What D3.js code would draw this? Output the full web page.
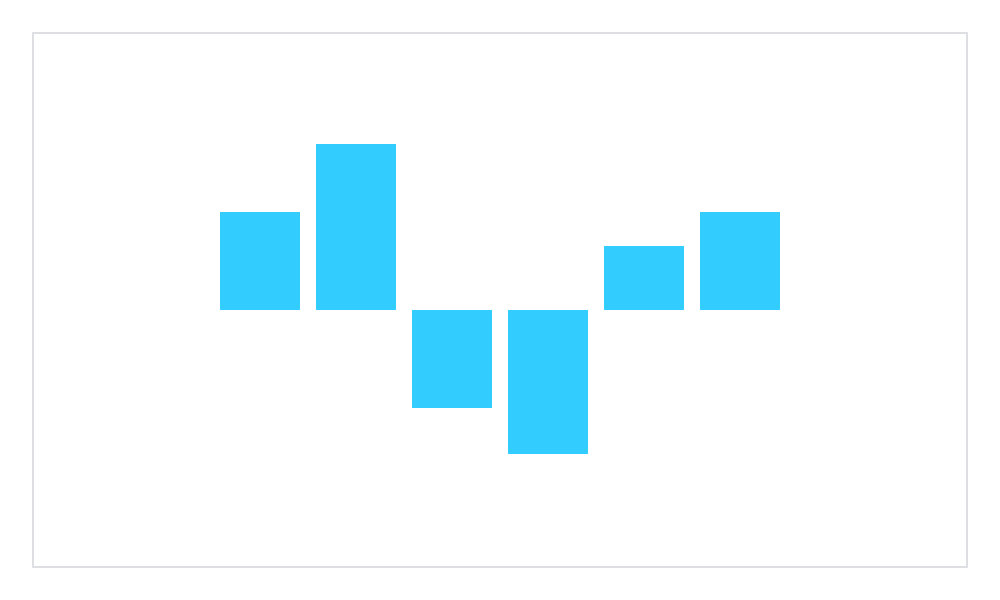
<!DOCTYPE html>
<html>
<head>
<meta charset="utf-8">
<script src="https://cdn.jsdelivr.net/npm/d3@7"></script>
<style>
  body { margin: 0; background: #fff; }
</style>
</head>
<body>
<div id="container"></div>
<script>
let w = 1000;
let h = 600;

// chart data
let categories = ["A", "B", "C", "D", "E", "F"];
let values = [49, 83, -49, -72, 32, 49];

let viz = d3.select("#container")
  .append("svg")
    .attr("width", w)
    .attr("height", h)
    .style("background-color", "white")
;

// light frame round the plot
viz.append("rect")
  .attr("x", 33)
  .attr("y", 33)
  .attr("width", 934)
  .attr("height", 534)
  .attr("fill", "none")
  .attr("stroke", "#dedfe3")
  .attr("stroke-width", 2)
;

let xScale = d3.scaleBand()
  .domain(categories)
  .range([212, 788])
  .paddingInner(1 / 6)
  .paddingOuter(1 / 12)
;

// one unit = 2px, zero sits at y=310
let yScale = d3.scaleLinear().domain([-128, 150]).range([566, 10]);

viz.append("g").attr("class", "bars")
  .selectAll("rect")
  .data(values)
  .enter()
  .append("rect")
    .attr("x", (d, i) => xScale(categories[i]))
    .attr("y", (d) => yScale(Math.max(0, d)))
    .attr("width", xScale.bandwidth())
    .attr("height", (d) => Math.abs(yScale(d) - yScale(0)))
    .attr("fill", "#33ccff")
;
</script>
</body>
</html>
